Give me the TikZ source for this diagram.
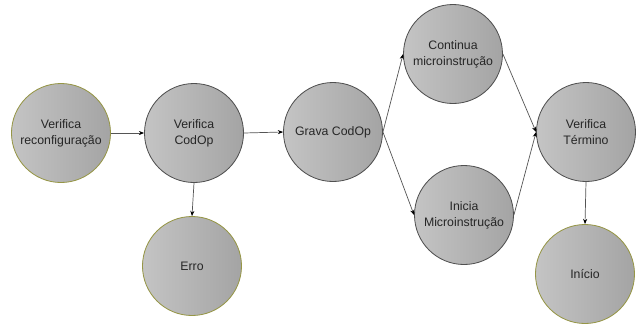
\documentclass[tikz,border=0pt]{standalone}
\usepackage{fontspec}
\setmainfont{Liberation Sans}
\usepackage{xcolor}
\usetikzlibrary{shapes,arrows.meta,positioning,calc}

\definecolor{oliveline}{RGB}{150,150,70}
\definecolor{darkline}{RGB}{80,80,80}
\definecolor{fillleft}{RGB}{196,196,196}
\definecolor{fillright}{RGB}{164,164,164}
\definecolor{arrowline}{RGB}{85,85,85}

\begin{document}
\begin{tikzpicture}[x=0.03cm,y=-0.03cm,
    estado/.style={circle, draw=darkline, line width=0.7pt, left color=fillleft, right color=fillright,
        minimum size=2.97cm, inner sep=0pt, align=center,
        font=\fontsize{10.5}{13.5}\selectfont, text=black!85},
    extremo/.style={estado, draw=oliveline},
    seta/.style={draw=arrowline, line width=0.6pt, -{Stealth[length=4.5pt,width=3.5pt,black]}}]
    \fill[white] (0,0) rectangle (640,327);
    \useasboundingbox (0,0) rectangle (640,327);

    \node[extremo] (reconf) at (61,133) {Verifica\\reconfigura\c{c}\~ao};
    \node[estado] (codop) at (194,133) {Verifica\\CodOp};
    \node[extremo] (erro) at (192,266) {Erro};
    \node[estado] (grava) at (333,132) {Grava CodOp};
    \node[estado] (cont) at (453,54) {Continua\\microinstru\c{c}\~ao};
    \node[estado] (inicia) at (464,215) {Inicia\\Microinstru\c{c}\~ao};
    \node[estado] (termino) at (586,132) {Verifica\\T\'ermino};
    \node[extremo] (inicio) at (585,274) {In\'icio};

    \draw[seta] (reconf.east) -- (codop.west);
    \draw[seta] (codop.east) -- (grava.west);
    \draw[seta] (codop.south) -- (erro.north);
    \draw[seta] (grava.east) -- (cont.west);
    \draw[seta] (grava.east) -- (inicia.west);
    \draw[seta] (cont.east) -- (termino.west);
    \draw[seta] (inicia.east) -- (termino.west);
    \draw[seta] (termino.south) -- (inicio.north);
\end{tikzpicture}
\end{document}
